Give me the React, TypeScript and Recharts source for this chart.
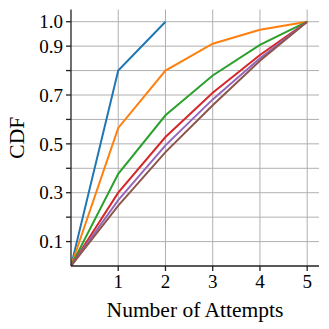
import React from "react";
import { LineChart, Line, XAxis, YAxis, CartesianGrid } from "recharts";

const attempts = [0, 1, 2, 3, 4, 5];
const seriesA = [0, 0.8, 1.0];
const seriesB = [0, 0.565, 0.8, 0.91, 0.967, 1.0];
const seriesC = [0, 0.377, 0.617, 0.78, 0.905, 1.0];
const seriesD = [0, 0.3, 0.528, 0.709, 0.864, 1.0];
const seriesE = [0, 0.27, 0.494, 0.682, 0.85, 1.0];
const seriesF = [0, 0.247, 0.466, 0.658, 0.84, 1.0];

const xTicks = [1, 2, 3, 4, 5];
const yTicks = [0.1, 0.2, 0.3, 0.4, 0.5, 0.6, 0.7, 0.8, 0.9, 1.0];
const yLabeled = [0.1, 0.3, 0.5, 0.7, 0.9, 1.0];

const keys = ["a", "b", "c", "d", "e", "f"];
const colors = ["#1f77b4", "#ff7f0e", "#2ca02c", "#d62728", "#9467bd", "#8c564b"];
const allSeries = [seriesA, seriesB, seriesC, seriesD, seriesE, seriesF];

const data = attempts.map((x, i) => {
  const row: Record<string, number | undefined> = { x };
  allSeries.forEach((s, k) => {
    row[keys[k]] = s[i];
  });
  return row;
});

const font = "'Liberation Serif', 'DejaVu Serif', serif";

export default function App() {
  return (
    <div style={{ position: "absolute", left: 0, top: 0, background: "#fff" }}>
      <LineChart
        width={329}
        height={329}
        data={data}
        margin={{ top: 9.5, right: 10, left: 0, bottom: 0 }}
        style={{ fontFamily: font }}
      >
        <CartesianGrid stroke="#b0b0b0" strokeWidth={1} horizontalValues={yTicks} verticalValues={xTicks} />
        <XAxis
          dataKey="x"
          type="number"
          domain={[0, 5.25]}
          ticks={xTicks}
          interval={0}
          allowDataOverflow
          height={63}
          tickSize={5}
          tickMargin={4}
          stroke="#222"
          strokeWidth={1.3}
          tick={{ fill: "#000", fontSize: 19, fontFamily: font }}
          tickLine={{ stroke: "#222" }}
          label={{
            content: (props: any) => {
              const vb = props.viewBox;
              return (
                <text x={vb.x + vb.width / 2} y={vb.y + 51} textAnchor="middle" fontSize={21.5} fontFamily={font} fill="#000">
                  Number of Attempts
                </text>
              );
            },
          }}
        />
        <XAxis xAxisId="top" orientation="top" dataKey="x" type="number" domain={[0, 5.25]} height={0} tick={false} tickLine={false} stroke="#222" strokeWidth={1.3} />
        <YAxis
          type="number"
          domain={[0, 1.05]}
          ticks={yTicks}
          interval={0}
          allowDataOverflow
          width={71}
          tickSize={5}
          tickMargin={3}
          stroke="#222"
          strokeWidth={1.3}
          tick={{ fill: "#000", fontSize: 19, fontFamily: font }}
          tickLine={{ stroke: "#222" }}
          tickFormatter={(v: number) => (yLabeled.some((t) => Math.abs(t - v) < 1e-6) ? v.toFixed(1) : "")}
          label={{
            content: (props: any) => {
              const vb = props.viewBox;
              const cx = 17;
              const cy = vb.y + vb.height / 2;
              return (
                <text x={cx} y={cy} transform={`rotate(-90, ${cx}, ${cy})`} textAnchor="middle" dominantBaseline="central" fontSize={21.5} fontFamily={font} fill="#000">
                  CDF
                </text>
              );
            },
          }}
        />
        <YAxis yAxisId="right" orientation="right" width={0} domain={[0, 1.05]} tick={false} tickLine={false} stroke="#222" strokeWidth={1.3} />
        {keys.map((k, i) => (
          <Line
            key={k}
            dataKey={k}
            stroke={colors[i]}
            strokeWidth={2}
            dot={false}
            activeDot={false}
            isAnimationActive={false}
            type="linear"
          />
        ))}
      </LineChart>
    </div>
  );
}
